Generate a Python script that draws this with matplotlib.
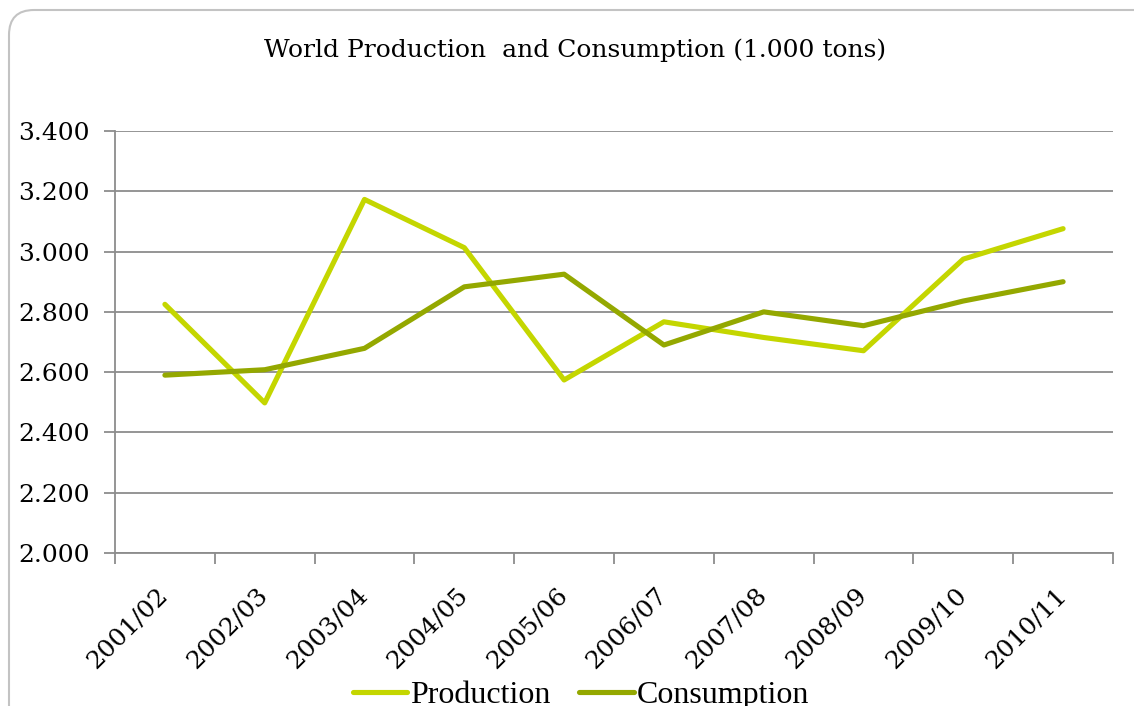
import matplotlib.pyplot as plt
import numpy as np
from matplotlib.patches import FancyBboxPatch

# Marketing years and world totals (1.000 tons)
seasons = ['2001/02', '2002/03', '2003/04', '2004/05', '2005/06',
           '2006/07', '2007/08', '2008/09', '2009/10', '2010/11']
production = [2825, 2498, 3173, 3013, 2574, 2767, 2715, 2671, 2975, 3076]
consumption = [2590, 2608, 2679, 2883, 2925, 2690, 2800, 2754, 2836, 2900]

prod_color = '#c4d600'
cons_color = '#94a800'
grid_color = '#8c8c8c'
serif = ['DejaVu Serif']

fig = plt.figure(figsize=(11.34, 7.06), dpi=100)

# Rounded frame around the chart (inches)
frame = FancyBboxPatch((0.09, -0.5), 12.0, 7.06 - 0.10 + 0.5,
                       boxstyle='round,pad=0,rounding_size=0.25',
                       transform=fig.dpi_scale_trans, facecolor='white',
                       edgecolor='#c3c3c3', linewidth=1.5, zorder=-1)
fig.patches.append(frame)

ax = fig.add_axes([115 / 1134, 153 / 706, 998 / 1134, 422 / 706])
ax.set_facecolor('none')

x = np.arange(len(seasons))
ax.plot(x, production, color=prod_color, linewidth=3.7, label='Production',
        solid_capstyle='round', solid_joinstyle='round', zorder=3)
ax.plot(x, consumption, color=cons_color, linewidth=3.7, label='Consumption',
        solid_capstyle='round', solid_joinstyle='round', zorder=3)

ax.set_xlim(-0.5, len(seasons) - 0.5)
ax.set_ylim(2000, 3400)
ax.set_yticks(np.arange(2000, 3401, 200))
ax.set_yticklabels([f'{v // 1000}.{v % 1000:03d}' for v in range(2000, 3401, 200)],
                   fontsize=18, family=serif)
ax.yaxis.grid(True, color=grid_color, linewidth=1.3)
ax.set_axisbelow(True)

ax.set_xticks(x)
ax.set_xticklabels(seasons, rotation=45, ha='right', va='center',
                   rotation_mode='anchor', fontsize=18, family=serif)
ax.set_xticks(np.arange(-0.5, len(seasons)), minor=True)
ax.tick_params(axis='x', which='major', length=0, pad=28)
ax.tick_params(axis='x', which='minor', length=8, color=grid_color, width=1.3)
ax.tick_params(axis='y', length=8, color=grid_color, width=1.3, pad=10)

for side in ['top', 'right']:
    ax.spines[side].set_visible(False)
for side in ['left', 'bottom']:
    ax.spines[side].set_color(grid_color)
    ax.spines[side].set_linewidth(1.3)

fig.text(575 / 1134, 1 - 50 / 706, 'World Production  and Consumption (1.000 tons)',
         ha='center', va='center', fontsize=18, family=serif)

leg = fig.legend(loc='center', bbox_to_anchor=(581 / 1134, 1 - 695 / 706),
                 ncol=2, frameon=False, handlelength=1.7, handletextpad=0.1,
                 columnspacing=0.9,
                 prop={'family': 'Liberation Serif', 'size': 23})

fig.savefig('out.png', dpi=100)
